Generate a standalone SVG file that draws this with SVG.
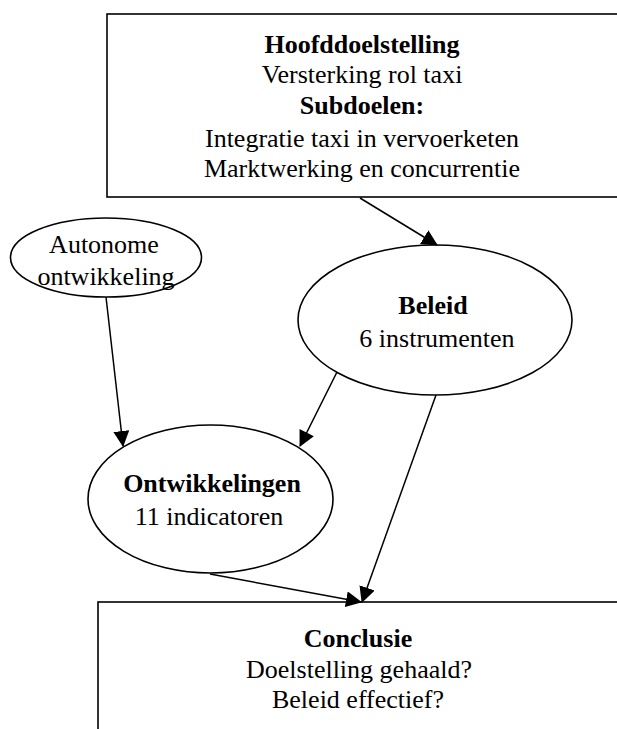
<svg xmlns="http://www.w3.org/2000/svg" width="617" height="729" viewBox="0 0 617 729">
<style>
.t{font-family:"Liberation Serif","Times New Roman",serif;font-size:26px;fill:#000;text-anchor:middle}
.b{font-weight:bold}
.shape{fill:#fff;stroke:#000;stroke-width:1.6}
.c{fill:none;stroke:#000;stroke-width:1.5;marker-end:url(#ah)}
</style>
<defs>
<marker id="ah" markerUnits="userSpaceOnUse" markerWidth="16" markerHeight="16" viewBox="0 0 16 16" refX="15" refY="8" orient="auto">
<path d="M0,0 L16,8 L0,16 Z" fill="#000"/>
</marker>
</defs>
<rect width="617" height="729" fill="#fff"/>
<g id="hoofddoel">
<rect class="shape" x="107" y="14" width="520" height="183" stroke-width="2"/>
<text class="t b" x="362" y="53">Hoofddoelstelling</text>
<text class="t" x="362" y="83">Versterking rol taxi</text>
<text class="t b" x="362" y="114">Subdoelen:</text>
<text class="t" x="362" y="147">Integratie taxi in vervoerketen</text>
<text class="t" x="362" y="177">Marktwerking en concurrentie</text>
</g>
<g id="autonome">
<ellipse class="shape" cx="106" cy="257.5" rx="95.5" ry="39.5"/>
<text class="t" x="104" y="253">Autonome</text>
<text class="t" x="106" y="285">ontwikkeling</text>
</g>
<g id="beleid">
<ellipse class="shape" cx="435" cy="320" rx="137" ry="75"/>
<text class="t b" x="433" y="314">Beleid</text>
<text class="t" x="437" y="347">6 instrumenten</text>
</g>
<g id="ontwikkelingen">
<ellipse class="shape" cx="210.5" cy="499" rx="122.5" ry="74"/>
<text class="t b" x="212" y="492">Ontwikkelingen</text>
<text class="t" x="209" y="525">11 indicatoren</text>
</g>
<g id="conclusie">
<rect class="shape" x="98" y="602" width="530" height="140"/>
<text class="t b" x="358" y="647">Conclusie</text>
<text class="t" x="359" y="678">Doelstelling gehaald?</text>
<text class="t" x="358" y="708">Beleid effectief?</text>
</g>
<g id="connectors">
<line class="c" x1="360" y1="198" x2="437" y2="245"/>
<line class="c" x1="106" y1="297" x2="123" y2="446"/>
<line class="c" x1="337" y1="372" x2="300" y2="446"/>
<line class="c" x1="436" y1="395" x2="362" y2="602"/>
<line class="c" x1="210" y1="574" x2="361" y2="602"/>
</g>
</svg>
